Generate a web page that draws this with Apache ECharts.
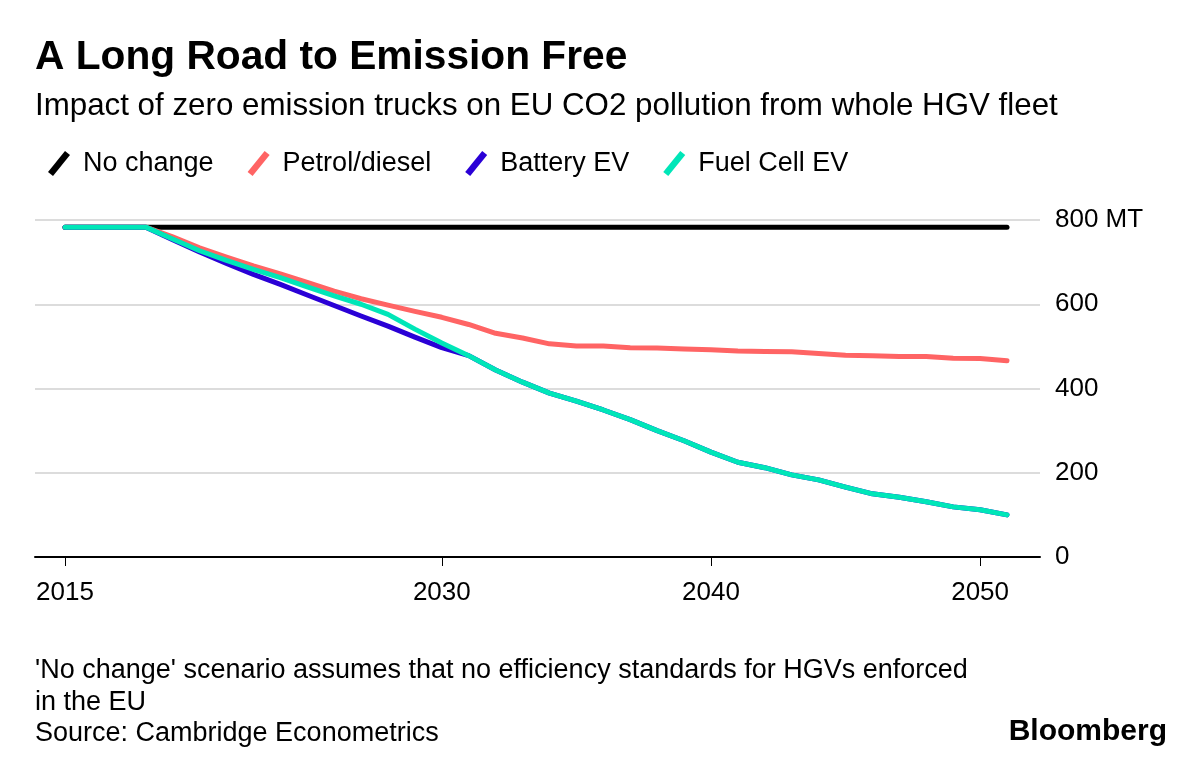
<!DOCTYPE html>
<html>
<head>
<meta charset="utf-8">
<script src="https://cdn.jsdelivr.net/npm/echarts@6/dist/echarts.min.js"></script>
<style>
html,body{margin:0;padding:0;background:#fff;}
#chart{width:1200px;height:762px;}
</style>
</head>
<body>
<div id="chart"></div>
<script>
// ---- data ----
const categories = ['2015','2017','2018','2019','2020','2021','2022','2023','2024','2025','2026','2027','2028','2029','2030','2031','2032','2033','2034','2035','2036','2037','2038','2039','2040','2041','2042','2043','2044','2045','2046','2047','2048','2049','2050','2051'];
const labelYears = ['2015','2030','2040','2050'];
const noChange = [783,783,783,783,783,783,783,783,783,783,783,783,783,783,783,783,783,783,783,783,783,783,783,783,783,783,783,783,783,783,783,783,783,783,783,783];
const petrolDiesel = [783,783,783,783,760,734,712,691,672,652,631,613,598,583,569,552,531,520,506,501,501,497,496,494,492,489,488,487,483,479,478,476,476,472,471,466];
const batteryEV = [783,783,783,783,753,724,697,671,647,622,597,572,548,522,497,478,444,415,389,370,349,326,300,276,249,225,212,195,183,166,150,142,131,119,112,100];
const fuelCellEV = [783,783,783,783,755,727,704,683,663,641,620,600,576,541,508,478,444,415,389,370,349,326,300,276,249,225,212,195,183,166,150,142,131,119,112,100];
const yTicks = [0,200,400,600,800];

const FONT = "'Liberation Sans', Arial, sans-serif";
const seriesDefs = [
  {name:'No change', data:noChange, color:'#000000'},
  {name:'Petrol/diesel', data:petrolDiesel, color:'#ff6464'},
  {name:'Battery EV', data:batteryEV, color:'#2a00d6'},
  {name:'Fuel Cell EV', data:fuelCellEV, color:'#00e6b8'}
];
const slash = 'path://M0,21 L17,0 L22,4 L5,25 Z';
const showIdx = (i, v) => labelYears.indexOf(v) >= 0;

const chart = echarts.init(document.getElementById('chart'), null, {renderer:'canvas'});
chart.setOption({
  animation:false,
  backgroundColor:'#ffffff',
  textStyle:{fontFamily:FONT},
  title:[
    {text:'A Long Road to Emission Free', left:30, top:32,
     textStyle:{fontFamily:FONT, fontSize:40.7, fontWeight:'bold', color:'#000'}},
    {text:'Impact of zero emission trucks on EU CO2 pollution from whole HGV fleet', left:30, top:86,
     textStyle:{fontFamily:FONT, fontSize:31.3, fontWeight:'normal', color:'#000'}},
    {text:"'No change' scenario assumes that no efficiency standards for HGVs enforced\nin the EU\nSource: Cambridge Econometrics", left:30, top:650,
     textStyle:{fontFamily:FONT, fontSize:27, fontWeight:'normal', color:'#000', lineHeight:31.5}},
    {text:'Bloomberg', right:28, top:712,
     textStyle:{fontFamily:FONT, fontSize:30, fontWeight:'bold', color:'#000'}}
  ],
  legend:{
    left:43, top:145, itemWidth:22, itemHeight:25, itemGap:34,
    icon: slash,
    textStyle:{fontFamily:FONT, fontSize:27, color:'#000', padding:[0,0,0,8]},
    data: seriesDefs.map(s => ({name:s.name, itemStyle:{color:s.color}}))
  },
  grid:[
    {left:35, right:160, top:220, bottom:205, containLabel:false},
    {left:65, right:193, top:220, bottom:205, containLabel:false}
  ],
  xAxis:[
    {type:'value', gridIndex:0, min:0, max:1, axisLine:{show:true, onZero:false, lineStyle:{color:'#000', width:2}},
     axisTick:{show:false}, axisLabel:{show:false}, splitLine:{show:false}},
    {type:'category', gridIndex:1, data:categories, boundaryGap:false,
     axisLine:{show:false},
     axisTick:{show:true, interval:showIdx, length:9, lineStyle:{color:'#000', width:1}},
     axisLabel:{interval:showIdx, fontFamily:FONT, fontSize:26, color:'#000', margin:23},
     splitLine:{show:false}}
  ],
  yAxis:[
    {type:'value', gridIndex:0, position:'right', min:0, max:800, interval:200,
     axisLine:{show:false}, axisTick:{show:false},
     axisLabel:{fontFamily:FONT, fontSize:26, color:'#000', margin:15, align:'left',
       formatter: v => v === 800 ? '800 MT' : String(v)},
     splitLine:{show:true, lineStyle:{color:'#dcdcdc', width:2}}},
    {type:'value', gridIndex:1, min:0, max:800, interval:200, show:false, splitLine:{show:false}}
  ],
  series: seriesDefs.map(s => ({
    name:s.name, type:'line', xAxisIndex:1, yAxisIndex:1, data:s.data,
    symbol:'none', lineStyle:{color:s.color, width:5, cap:'round', join:'round'},
    itemStyle:{color:s.color}
  }))
});
</script>
</body>
</html>
